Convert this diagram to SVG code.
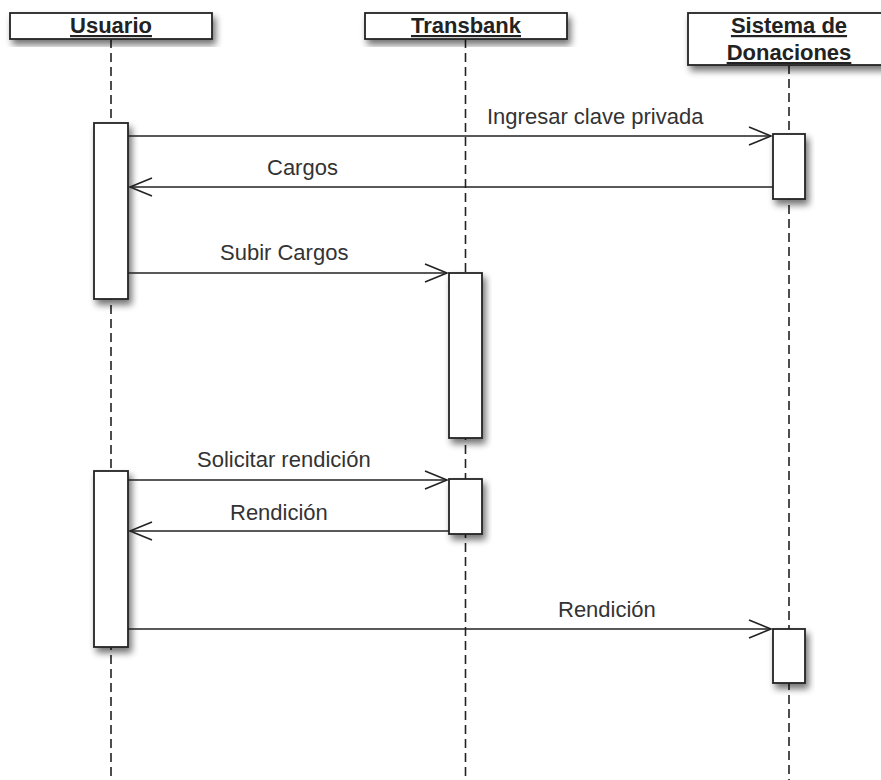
<svg xmlns="http://www.w3.org/2000/svg" width="881" height="780" viewBox="0 0 881 780">
<defs>
<filter id="sh" x="-30%" y="-30%" width="160%" height="160%">
<feGaussianBlur in="SourceAlpha" stdDeviation="3.5"/>
<feOffset dx="3" dy="5" result="b"/>
<feComponentTransfer><feFuncA type="linear" slope="0.55"/></feComponentTransfer>
<feMerge><feMergeNode/><feMergeNode in="SourceGraphic"/></feMerge>
</filter>
<marker id="arr" markerUnits="userSpaceOnUse" markerWidth="30" markerHeight="24" viewBox="-24 -12 30 24" refX="0" refY="0" orient="auto">
<path d="M-22,-9 L0,0 L-22,9" fill="none" stroke="#222" stroke-width="1.6"/>
</marker>
</defs>
<style>
.box{fill:#fff;stroke:#222;stroke-width:1.8;filter:url(#sh)}
.life{stroke:#222;stroke-width:1.6;stroke-dasharray:9 5;fill:none}
.msg{stroke:#222;stroke-width:1.6;fill:none;marker-end:url(#arr)}
.hd{font-family:"Liberation Sans",Arial,sans-serif;font-weight:bold;font-size:22px;fill:#222;text-decoration:underline;text-anchor:middle}
.lb{font-family:"Liberation Sans",Arial,sans-serif;font-size:22px;fill:#333}
</style>
<rect width="881" height="780" fill="#fff"/>
<g id="lifelines">
<line class="life" x1="111" y1="39" x2="111" y2="780"/>
<line class="life" x1="465.5" y1="39" x2="465.5" y2="780"/>
<line class="life" x1="789" y1="65" x2="789" y2="780"/>
</g>
<g id="usuario">
<rect class="box" x="10" y="13" width="202" height="26"/>
<text class="hd" x="111" y="33">Usuario</text>
</g>
<g id="transbank">
<rect class="box" x="365" y="13" width="202" height="26"/>
<text class="hd" x="466" y="33">Transbank</text>
</g>
<g id="sistema">
<rect class="box" x="688" y="13" width="204" height="52"/>
<text class="hd" x="789" y="33">Sistema de</text>
<text class="hd" x="789" y="60">Donaciones</text>
</g>
<g id="act-usuario-1"><rect class="box" x="94" y="123" width="34" height="176"/></g>
<g id="act-usuario-2"><rect class="box" x="94" y="471" width="34" height="176"/></g>
<g id="act-transbank-1"><rect class="box" x="449" y="273" width="33" height="165"/></g>
<g id="act-transbank-2"><rect class="box" x="449" y="479" width="33" height="55"/></g>
<g id="act-sistema-1"><rect class="box" x="773" y="134" width="32" height="65"/></g>
<g id="act-sistema-2"><rect class="box" x="773" y="629" width="32" height="54"/></g>
<g id="connectors">
<line class="msg" x1="128" y1="136" x2="771" y2="136"/>
<line class="msg" x1="773" y1="187" x2="130" y2="187"/>
<line class="msg" x1="128" y1="273" x2="447" y2="273"/>
<line class="msg" x1="128" y1="480" x2="447" y2="480"/>
<line class="msg" x1="449" y1="531" x2="130" y2="531"/>
<line class="msg" x1="128" y1="629" x2="771" y2="629"/>
</g>
<g id="labels">
<text class="lb" x="487" y="124">Ingresar clave privada</text>
<text class="lb" x="267" y="175">Cargos</text>
<text class="lb" x="220" y="260">Subir Cargos</text>
<text class="lb" x="197" y="467">Solicitar rendición</text>
<text class="lb" x="230" y="520">Rendición</text>
<text class="lb" x="558" y="617">Rendición</text>
</g>
</svg>
